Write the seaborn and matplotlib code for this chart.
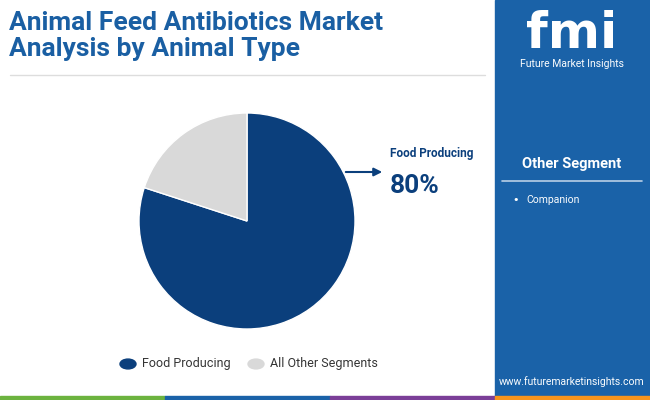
import matplotlib
matplotlib.use('Agg')
import matplotlib.pyplot as plt
import seaborn as sns
from matplotlib.patches import Rectangle, FancyArrowPatch

sns.set_theme(style='white')

segments = ['Food Producing', 'All Other Segments']
shares = [80, 20]
colors = ['#0b3f7c', '#d9d9d9']
other_items = ['Companion']

fig = plt.figure(figsize=(6.5, 4), dpi=100)
fig.patch.set_facecolor('white')

# right panel
fig.patches.append(Rectangle((495 / 650, 0), 155 / 650, 1, transform=fig.transFigure,
                             color='#1a62a8', zorder=0))
# bottom stripe
for i, c in enumerate(['#6cb33f', '#1a62a8', '#7b3f98', '#f7941d']):
    fig.patches.append(Rectangle((i * 165 / 650, 0), 165 / 650, 4 / 400,
                                 transform=fig.transFigure, color=c, zorder=1))
# title rule
fig.add_artist(plt.Line2D([10 / 650, 485 / 650], [1 - 75 / 400] * 2, color='#dddddd', lw=1))

fig.text(9 / 650, 1 - 36 / 400, 'Animal Feed Antibiotics Market\nAnalysis by Animal Type',
         fontsize=19, fontweight='bold', color='#1a5fa3', va='center', ha='left',
         family='Roboto', linespacing=1.15)

ax = fig.add_axes([139 / 650, 1 - 329 / 400, 216 / 650, 216 / 400])
ax.pie(shares, colors=colors, startangle=90, counterclock=False)
ax.set_xlim(-1, 1)
ax.set_ylim(-1, 1)
ax.set_aspect('equal')

fig.add_artist(FancyArrowPatch((343 / 650, 1 - 172 / 400), (385 / 650, 1 - 172 / 400),
                               transform=fig.transFigure, arrowstyle='-|>',
                               mutation_scale=12, color='#0b3f7c', lw=1.5))
fig.text(390 / 650, 1 - 154 / 400, segments[0], fontsize=8.5, fontweight='bold',
         color='#0b3f7c', va='center', family='Roboto')
fig.text(390 / 650, 1 - 186 / 400, f'{shares[0]}%', fontsize=19, fontweight='bold',
         color='#0b3f7c', va='center', family='Roboto')

# legend
for i, (lab, c) in enumerate(zip(segments, colors)):
    x = 128 if i == 0 else 256
    fig.patches.append(plt.Circle((x / 650, 1 - 364 / 400), 8 / 650, color=c,
                                  transform=fig.transFigure))
    fig.text((x + 14) / 650, 1 - 364 / 400, lab, fontsize=9, color='#333333',
             va='center', family='Roboto')

# right panel text
fig.text(572 / 650, 1 - 34 / 400, 'fmi', fontsize=36, fontweight='bold', color='white',
         ha='center', va='center', family='DejaVu Sans')
fig.text(572 / 650, 1 - 64 / 400, 'Future Market Insights', fontsize=7.5, color='white',
         ha='center', va='center', family='Roboto')
fig.text(572 / 650, 1 - 164 / 400, 'Other Segment', fontsize=10.5, fontweight='bold',
         color='white', ha='center', va='center', family='Roboto')
fig.add_artist(plt.Line2D([502 / 650, 642 / 650], [1 - 181 / 400] * 2, color='#b8cfe6', lw=1.2))
for j, item in enumerate(other_items):
    y = 1 - (200 + j * 18) / 400
    fig.text(512 / 650, y, '\u2022', fontsize=8, color='white', va='center')
    fig.text(526 / 650, y, item, fontsize=7.5, color='white', va='center', family='Roboto')
fig.text(572 / 650, 1 - 382 / 400, 'www.futuremarketinsights.com', fontsize=7.5,
         color='white', ha='center', va='center', family='Roboto')

fig.savefig('out.png', dpi=100)
